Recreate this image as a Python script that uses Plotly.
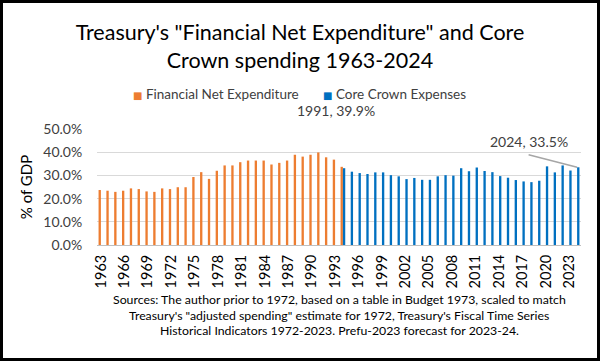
import plotly.graph_objects as go

years = [str(y) for y in range(1963, 2025)]

# Financial Net Expenditure 1963-1994 (% of GDP)
fne_years = [str(y) for y in range(1963, 1995)]
fne_values = [23.7, 23.4, 22.9, 23.4, 24.4, 24.1, 23.1, 22.9, 24.4, 24.1,
              24.9, 24.9, 29.3, 31.4, 28.5, 32.0, 34.3, 34.3, 35.7, 36.4,
              36.4, 36.4, 34.7, 35.4, 36.4, 38.9, 38.1, 38.9, 39.9, 37.8,
              36.8, 33.7]

# Core Crown Expenses 1994-2024 (% of GDP)
cce_years = [str(y) for y in range(1994, 2025)]
cce_values = [33.1, 31.6, 31.0, 30.6, 31.3, 31.3, 30.1, 29.6, 28.4, 28.9,
              28.1, 28.1, 29.6, 30.1, 29.9, 33.1, 31.8, 33.4, 31.9, 31.4,
              29.7, 29.0, 28.0, 27.4, 27.1, 27.7, 33.9, 31.3, 34.3, 32.1,
              33.5]

tick_years = [str(y) for y in range(1963, 2025, 3)]
y_ticks = [0, 10, 20, 30, 40, 50]

series_names = ["Financial Net Expenditure", "Core Crown Expenses"]
series_colors = ["#ED7D31", "#0070C0"]

source_lines = [
    "Sources: The author prior to 1972, based on a table in Budget 1973, scaled to match",
    "Treasury's \"adjusted spending\" estimate for 1972, Treasury's Fiscal Time Series",
    "Historical Indicators 1972-2023. Prefu-2023 forecast for 2023-24.",
]

W, H = 600, 361
ml, mr, mt, mb = 97, 19, 129, 116
pw, ph = W - ml - mr, H - mt - mb

FONT = "Lato, Liberation Sans, sans-serif"

fig = go.Figure()
fig.add_trace(go.Bar(x=fne_years, y=fne_values, name=series_names[0],
                     marker=dict(color=series_colors[0], line=dict(width=0))))
fig.add_trace(go.Bar(x=cce_years, y=cce_values, name=series_names[1],
                     marker=dict(color=series_colors[1], line=dict(width=0))))

fig.update_layout(
    width=W, height=H,
    margin=dict(l=ml, r=mr, t=mt, b=mb),
    paper_bgcolor="white", plot_bgcolor="white",
    barmode="group", bargap=0.4, bargroupgap=0,
    font=dict(family=FONT, size=13, color="#404040"),
    showlegend=False,
    title=dict(text="Treasury's \"Financial Net Expenditure\" and Core<br>Crown spending 1963-2024",
               x=0.5, xanchor="center", y=1 - 40 / H, yanchor="middle",
               font=dict(size=21.5, color="#000000", family=FONT)),
    xaxis=dict(type="category", categoryorder="array", categoryarray=years,
               range=[-0.5, len(years) - 0.5],
               tickmode="array", tickvals=tick_years, ticktext=tick_years,
               tickangle=-90, tickfont=dict(size=14.5, color="#000000"),
               showgrid=False, showline=True, linecolor="#bfbfbf", linewidth=1,
               ticks="outside", tickcolor="white", ticklen=3, fixedrange=True),
    yaxis=dict(range=[0, 50], tickvals=y_ticks,
               ticktext=[f"{v:.1f}%" for v in y_ticks],
               tickfont=dict(size=14, color="#404040"),
               showgrid=True, gridcolor="#d9d9d9", gridwidth=1,
               zeroline=False, showline=False,
               ticks="outside", tickcolor="white", ticklen=11,
               title=dict(text="% of GDP", font=dict(size=15, color="#000000"),
                          standoff=7)),
)

# legend (custom, tight spacing like the reference)
for name, color, xpx in zip(series_names, series_colors, [131, 321]):
    fig.add_annotation(
        text=(f'<span style="color:{color};font-family:DejaVu Sans;'
              f'font-size:10px">■</span> {name}'),
        xref="paper", yref="paper", x=(xpx - ml) / pw, y=(H - 94 - mb) / ph,
        xanchor="left", yanchor="middle", showarrow=False,
        font=dict(size=13.5, color="#404040"))

i1991 = years.index("1991")
i2024 = years.index("2024")
fig.add_annotation(x=i1991, y=39.9, text="1991, 39.9%", showarrow=False,
                   xshift=17, yshift=42, font=dict(size=14, color="#404040"))
fig.add_annotation(x=i2024, y=33.5, text="2024, 33.5%", showarrow=False,
                   xshift=-48, yshift=26, font=dict(size=14, color="#404040"))
fig.add_annotation(x=i2024, y=33.5, text="", showarrow=True, arrowhead=0,
                   arrowwidth=1.5, arrowcolor="#a6a6a6", ax=-50, ay=-13,
                   standoff=0)

for line, ypx in zip(source_lines, [299, 315, 330]):
    fig.add_annotation(
        text=line, xref="paper", yref="paper", x=(339 - ml) / pw,
        y=(H - ypx - mb) / ph, xanchor="center", yanchor="middle",
        showarrow=False, font=dict(size=12.3, color="#000000"))

# outer frame
fig.add_shape(type="rect", xref="paper", yref="paper",
              x0=(1.5 - ml) / pw, x1=(W - 1.5 - ml) / pw,
              y0=(1.5 - mb) / ph, y1=(H - 1.5 - mb) / ph,
              line=dict(color="black", width=3))

fig.write_html("out.html", config={"displayModeBar": False},
               post_script="document.body.style.margin='0px';document.body.style.overflow='hidden';")
